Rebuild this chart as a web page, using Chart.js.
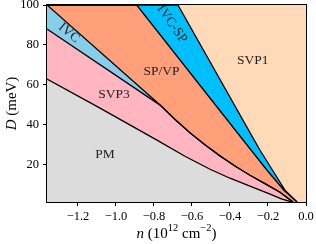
<!DOCTYPE html>
<html>
<head>
<meta charset="utf-8">
<script src="https://cdn.jsdelivr.net/npm/chart.js@4"></script>
<style>
  html, body { margin: 0; padding: 0; background: #fff; }
</style>
</head>
<body>
<canvas id="chart" width="316" height="244"></canvas>
<script>
// phase boundaries, as [n (1e12 cm^-2), D (meV)]
const nMin = -1.363, nMax = 0.0;
const dMin = 1.4, dMax = 100;
const xTicks = [-1.2, -1.0, -0.8, -0.6, -0.4, -0.2, 0.0];
const yTicks = [20, 40, 60, 80, 100];

const pmEdge = [[-1.363, 62.9], [-1.084, 48.4], [-0.789, 32.6], [-0.637, 24.3], [-0.505, 17.8],
                [-0.4, 13.3], [-0.295, 9.3], [-0.189, 5.3], [-0.126, 2.8], [-0.074, 1.4]];
const svp3Edge = [[-1.363, 88.0], [-0.768, 49.9], [-0.689, 42.7], [-0.611, 36.1], [-0.532, 30.1],
                  [-0.453, 24.5], [-0.374, 19.4], [-0.295, 14.8], [-0.216, 10.6], [-0.137, 6.3],
                  [-0.068, 1.4]];
const ivcEdge = [[-1.363, 100], [-0.768, 49.9]];
const spvpEdge = [[-1.363, 100], [-0.891, 100], [-0.33, 32.3], [-0.205, 17.3], [-0.116, 7.3], [-0.047, 1.4]];
const ivcspEdge = [[-1.363, 100], [-0.674, 100], [-0.326, 41.4], [-0.242, 27.3], [-0.176, 17.3],
                   [-0.111, 7.3], [-0.047, 1.4]];

// region names
const regionNames = ['PM', 'SVP3', 'IVC', 'SP/VP', 'IVC-SP', 'SVP1'];
const regionN = [-1.058, -1.01, -1.247, -0.76, -0.705, -0.28];
const regionD = [25.1, 55.4, 86, 66.9, 90.5, 72.4];
const regionAngle = [0, 0, 40, 0, 55, 0];

const SERIF = "'Liberation Serif', 'DejaVu Serif', serif";
const toXY = arr => arr.map(p => ({ x: p[0], y: p[1] }));

function edge(label, pts, color) {
    return {
        label: label,
        data: toXY(pts),
        backgroundColor: color,
        borderColor: '#000',
        borderWidth: 1.3,
        pointRadius: 0,
        tension: 0,
        fill: 'start'
    };
}

function drawParts(ctx, parts, size) {
    let total = 0;
    parts.forEach(p => {
        ctx.font = (p.it ? 'italic ' : '') + (p.sup ? size * 0.7 : size) + 'px ' + SERIF;
        p.w = ctx.measureText(p.t).width;
        total += p.w;
    });
    let x = -total / 2;
    parts.forEach(p => {
        ctx.font = (p.it ? 'italic ' : '') + (p.sup ? size * 0.7 : size) + 'px ' + SERIF;
        ctx.fillText(p.t, x, p.sup ? -size * 0.4 : 0);
        x += p.w;
    });
}

const decor = {
    id: 'decor',
    beforeDraw(chart) {
        const { ctx, chartArea: a } = chart;
        ctx.save();
        ctx.fillStyle = '#ffdab9';
        ctx.fillRect(a.left, a.top, a.right - a.left, a.bottom - a.top);
        ctx.restore();
    },
    afterDatasetsDraw(chart) {
        const ctx = chart.ctx;
        const sx = chart.scales.x, sy = chart.scales.y;
        ctx.save();
        ctx.fillStyle = '#222';
        ctx.font = '13.5px ' + SERIF;
        ctx.textAlign = 'center';
        ctx.textBaseline = 'middle';
        regionNames.forEach((name, i) => {
            ctx.save();
            ctx.translate(sx.getPixelForValue(regionN[i]), sy.getPixelForValue(regionD[i]));
            ctx.rotate(regionAngle[i] * Math.PI / 180);
            ctx.fillText(name, 0, 0);
            ctx.restore();
        });
        ctx.restore();
    },
    afterDraw(chart) {
        const { ctx, chartArea: a } = chart;
        ctx.save();
        ctx.strokeStyle = '#000';
        ctx.lineWidth = 1;
        ctx.strokeRect(a.left - 0.5, a.top - 0.5, a.right - a.left + 1, a.bottom - a.top + 1);

        ctx.fillStyle = '#000';
        ctx.textAlign = 'left';
        ctx.textBaseline = 'middle';
        ctx.save();
        ctx.translate((a.left + a.right) / 2, 234);
        drawParts(ctx, [{ t: 'n', it: true }, { t: ' (10' }, { t: '12', sup: true },
                        { t: ' cm' }, { t: '\u22122', sup: true }, { t: ')' }], 15);
        ctx.restore();
        ctx.save();
        ctx.translate(12.5, (a.top + a.bottom) / 2);
        ctx.rotate(-Math.PI / 2);
        drawParts(ctx, [{ t: 'D', it: true }, { t: ' (meV)' }], 15);
        ctx.restore();
        ctx.restore();
    }
};

const ctx = document.getElementById('chart').getContext('2d');
new Chart(ctx, {
    type: 'line',
    data: {
        datasets: [
            edge('PM', pmEdge, '#dcdcdc'),
            edge('SVP3', svp3Edge, '#ffb6c1'),
            edge('IVC', ivcEdge.concat(svp3Edge.slice(2)), '#87ceeb'),
            edge('SP/VP', spvpEdge, '#ffa07a'),
            edge('IVC-SP', ivcspEdge, '#00bfff')
        ]
    },
    options: {
        responsive: false,
        animation: false,
        layout: { padding: { top: 5, right: 10, left: 0, bottom: 0 } },
        plugins: {
            legend: { display: false },
            tooltip: { enabled: false },
            filler: { drawTime: 'beforeDatasetsDraw' }
        },
        scales: {
            x: {
                type: 'linear',
                min: nMin,
                max: nMax,
                afterBuildTicks: s => { s.ticks = xTicks.map(v => ({ value: v })); },
                afterFit: s => { s.height = 42; s.paddingLeft = 0; s.paddingRight = 0; },
                border: { display: false },
                grid: { drawOnChartArea: false, drawTicks: true, tickLength: 4, color: '#000' },
                ticks: {
                    autoSkip: false,
                    maxRotation: 0,
                    padding: 3,
                    color: '#000',
                    font: { family: SERIF, size: 12.5 },
                    callback: v => v.toFixed(1).replace('-', '\u2212')
                }
            },
            y: {
                type: 'linear',
                min: dMin,
                max: dMax,
                afterBuildTicks: s => { s.ticks = yTicks.map(v => ({ value: v })); },
                afterFit: s => { s.width = 47; s.paddingTop = 0; s.paddingBottom = 0; },
                border: { display: false },
                grid: { drawOnChartArea: false, drawTicks: true, tickLength: 4, color: '#000' },
                ticks: {
                    autoSkip: false,
                    padding: 4,
                    color: '#000',
                    font: { family: SERIF, size: 12.5 },
                    callback: v => String(v)
                }
            }
        }
    },
    plugins: [decor]
});
</script>
</body>
</html>
